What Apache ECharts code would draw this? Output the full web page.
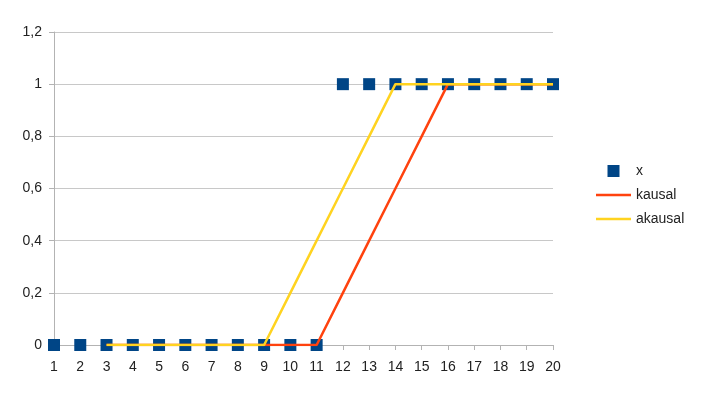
<!DOCTYPE html>
<html><head><meta charset="utf-8">
<script src="https://cdn.jsdelivr.net/npm/echarts@6/dist/echarts.min.js"></script>
<style>html,body{margin:0;padding:0;background:#fff}#c{width:702px;height:394px}</style>
</head><body><div id="c"></div>
<script>
var categories = ['1','2','3','4','5','6','7','8','9','10','11','12','13','14','15','16','17','18','19','20'];
var xValues = [0,0,0,0,0,0,0,0,0,0,0,1,1,1,1,1,1,1,1,1];
var kausal = ['-','-',0,0,0,0,0,0,0,0,0,0.2,0.4,0.6,0.8,1,1,1,1,1];
var akausal = ['-','-',0,0,0,0,0,0,0,0.2,0.4,0.6,0.8,1,1,1,1,1,1,1];
var yTicks = [0,0.2,0.4,0.6,0.8,1,1.2];

var chart = echarts.init(document.getElementById('c'));
var font = 'Liberation Sans';
var lineIcon = 'path://M0,5 L35,5 L35,7.5 L0,7.5 Z';
chart.setOption({
  animation: false,
  backgroundColor: '#fff',
  grid: {left: 54, right: 149, top: 32, bottom: 49, containLabel: false},
  legend: {
    orient: 'vertical', left: 596, top: 164, itemGap: 10, itemWidth: 35, itemHeight: 12, padding: 0,
    textStyle: {fontFamily: font, fontSize: 14, color: '#222'},
    data: [
      {name: 'x', icon: 'path://M11.5,0 L23.5,0 L23.5,12 L11.5,12 Z'},
      {name: 'kausal', icon: lineIcon},
      {name: 'akausal', icon: lineIcon}
    ]
  },
  xAxis: {
    type: 'category', data: categories, boundaryGap: false,
    axisLine: {lineStyle: {color: '#b3b3b3', width: 1}},
    axisTick: {show: true, length: 5, alignWithLabel: true, lineStyle: {color: '#b3b3b3'}},
    axisLabel: {fontFamily: font, fontSize: 14, color: '#222', margin: 15, interval: 0},
    splitLine: {show: false}
  },
  yAxis: {
    type: 'value', min: 0, max: 1.2, interval: 0.2,
    axisLine: {show: true, lineStyle: {color: '#b3b3b3'}},
    axisTick: {show: true, length: 5, lineStyle: {color: '#b3b3b3'}},
    axisLabel: {fontFamily: font, fontSize: 14, color: '#222', margin: 12,
      formatter: function(v){ var r = Math.round(v*10)/10; return String(r).replace('.', ','); }},
    splitLine: {lineStyle: {color: '#c8c8c8'}}
  },
  series: [
    {name: 'x', type: 'scatter', data: xValues, symbol: 'rect', symbolSize: 12,
      itemStyle: {color: '#004586', opacity: 1}, z: 2},
    {name: 'kausal', type: 'line', data: kausal, showSymbol: false, symbol: 'none',
      lineStyle: {color: '#ff420e', width: 2.5}, itemStyle: {color: '#ff420e'}, z: 3},
    {name: 'akausal', type: 'line', data: akausal, showSymbol: false, symbol: 'none',
      lineStyle: {color: '#ffd320', width: 2.5}, itemStyle: {color: '#ffd320'}, z: 4}
  ]
});
</script></body></html>
